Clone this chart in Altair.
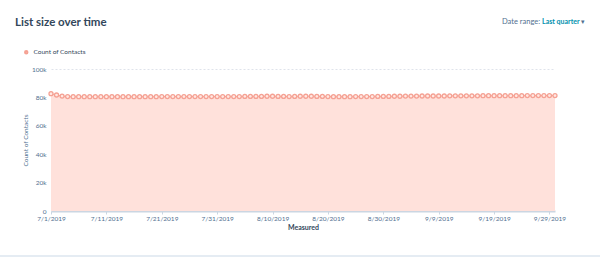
import altair as alt
import pandas as pd

# ---- data ----
dates = [d.strftime("%Y-%m-%dT00:00:00") for d in pd.date_range("2019-07-01", "2019-09-30", freq="D")]
counts = [
    82600, 81700, 80900, 80600, 80500, 80500, 80500, 80500, 80500, 80500,
    80500, 80500, 80500, 80500, 80500, 80500, 80500, 80500, 80500, 80500,
    80600, 80600, 80600, 80600, 80600, 80600, 80600, 80600, 80600, 80600,
    80600, 80600, 80600, 80600, 80600, 80700, 80700, 80700, 80700, 80800,
    80800, 80700, 80700, 80600, 80700, 80800, 80800, 80800, 80700, 80700,
    80600, 80500, 80500, 80500, 80500, 80600, 80600, 80600, 80600, 80700,
    80700, 80700, 80800, 80800, 80900, 80900, 80900, 81000, 81000, 81000,
    81000, 81000, 81100, 81100, 81100, 81100, 81100, 81100, 81200, 81200,
    81200, 81200, 81200, 81200, 81200, 81200, 81300, 81300, 81300, 81300,
    81300, 81300,
]
series_name = "Count of Contacts"
y_ticks = [0, 20000, 40000, 60000, 80000, 100000]
x_tick_days = [(7, 1), (7, 11), (7, 21), (7, 31), (8, 10), (8, 20), (8, 30), (9, 9), (9, 19), (9, 29)]

df = pd.DataFrame({"date": dates[:len(counts)], "count": counts, "series": series_name})
one = pd.DataFrame({"k": [0]})

FONT = "Lato"
LINE = "#f5a193"
FILL = "#ffe1db"
LABEL = "#516f90"
DARK = "#33475b"

x_enc = alt.X(
    "date:T",
    title="Measured",
    scale=alt.Scale(domain=[alt.DateTime(year=2019, month=7, date=1),
                            alt.DateTime(year=2019, month=9, date=30)]),
    axis=alt.Axis(
        values=[alt.DateTime(year=2019, month=m, date=d) for m, d in x_tick_days],
        format="%-m/%-d/%Y",
        labelFont=FONT, labelFontSize=6.5, labelColor=LABEL,
        titleFont=FONT, titleFontSize=7, titleFontWeight="bold", titleColor=DARK,
        titlePadding=2,
        grid=False, domainColor="#cbd6e2", domainWidth=2,
        tickColor="#cbd6e2", tickSize=3, labelPadding=1,
        labelOverlap=False, labelFlush=False,
    ),
)
y_enc = alt.Y(
    "count:Q",
    title="Count of Contacts",
    scale=alt.Scale(domain=[0, 100000], nice=False),
    axis=alt.Axis(
        values=y_ticks,
        labelExpr="datum.value == 0 ? '0' : format(datum.value / 1000, 'd') + 'k'",
        labelFont=FONT, labelFontSize=6.5, labelColor=LABEL,
        titleFont=FONT, titleFontSize=6.5, titleFontWeight="normal", titleColor=LABEL,
        titlePadding=3,
        domain=False, ticks=False, labelPadding=5,
        gridColor="#dfe3eb", gridDash=[2, 2], gridWidth=1,
    ),
)

color_enc = alt.Color(
    "series:N",
    scale=alt.Scale(range=[LINE]),
    legend=alt.Legend(
        title=None, orient="none", legendX=-28, legendY=-20,
        symbolType="circle", symbolSize=6, symbolStrokeWidth=2,
        symbolOpacity=1,
        labelFont=FONT, labelFontSize=6.5, labelColor=DARK, symbolOffset=0,
    ),
)

base = alt.Chart(df)

area = base.mark_area(color=FILL, opacity=1).encode(x=x_enc, y=y_enc)
line = base.mark_line(color=LINE, strokeWidth=1).encode(x=x_enc, y=y_enc)
points = base.mark_point(shape="circle", filled=False, fill="#ffe9e4", fillOpacity=1,
                         strokeWidth=1.3, size=16).encode(x=x_enc, y=y_enc, color=color_enc)

title = alt.Chart(one).mark_text(
    text="List size over time", font=FONT, fontSize=11.5, fontWeight="bold",
    color=DARK, align="left", baseline="middle",
).encode(x=alt.value(-36), y=alt.value(-46))

date_lbl = alt.Chart(one).mark_text(
    text="Date range:", font=FONT, fontSize=7.5, color=LABEL, align="left", baseline="middle",
).encode(x=alt.value(451), y=alt.value(-47))
date_val = alt.Chart(one).mark_text(
    text="Last quarter", font=FONT, fontSize=7, fontWeight="bold", color="#0091ae",
    align="left", baseline="middle",
).encode(x=alt.value(491), y=alt.value(-47))
date_arrow = alt.Chart(one).mark_text(
    text="▾", font="DejaVu Sans", fontSize=7, color=LABEL, align="left", baseline="middle",
).encode(x=alt.value(530), y=alt.value(-47))

sep = alt.Chart(one).mark_rule(color="#e5ecf3", strokeWidth=2).encode(
    x=alt.value(-51), x2=alt.value(549), y=alt.value(187)
)

chart = alt.layer(area, line, points, title, date_lbl, date_val, date_arrow, sep).properties(
    width=504, height=142,
    autosize=alt.AutoSizeParams(type="none"),
    padding={"left": 51, "top": 69, "right": 45, "bottom": 47},
    background="white",
).configure_view(stroke=None)

chart.save("out.html", embed_options={"renderer": "svg", "actions": False})
